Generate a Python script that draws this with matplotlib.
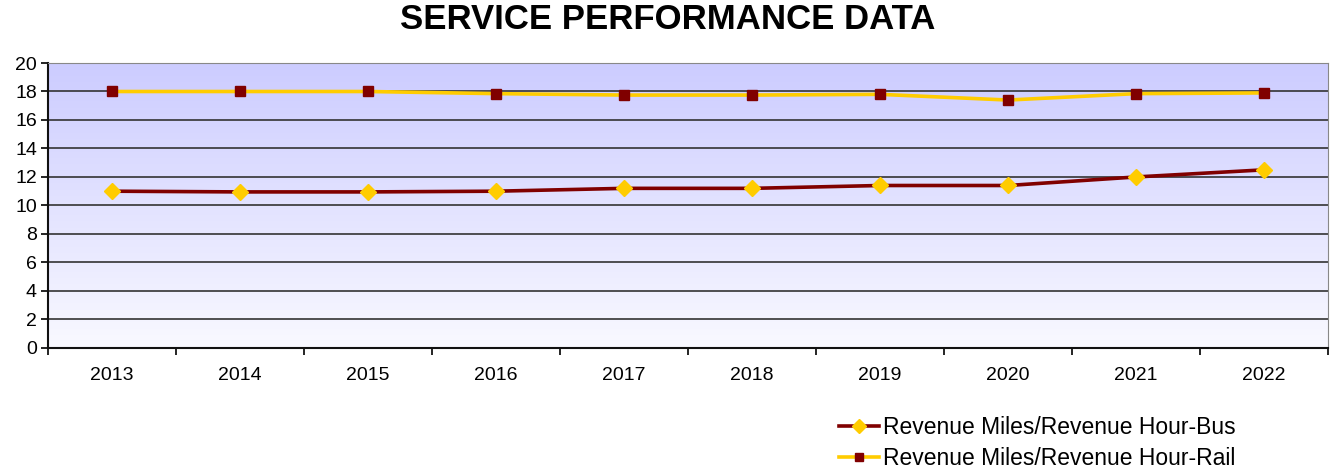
import numpy as np
import matplotlib.pyplot as plt
from matplotlib.colors import LinearSegmentedColormap

plt.rcParams['font.family'] = ['Liberation Sans', 'DejaVu Sans']

# Data
years = ['2013', '2014', '2015', '2016', '2017', '2018', '2019', '2020', '2021', '2022']
bus = [11.0, 10.95, 10.95, 11.0, 11.2, 11.2, 11.4, 11.4, 12.0, 12.5]
rail = [18.0, 18.0, 18.0, 17.85, 17.75, 17.75, 17.8, 17.4, 17.85, 17.9]

fig = plt.figure(figsize=(13.35, 4.72), dpi=100)
ax = fig.add_axes([0.036, 0.263, 0.9588, 0.6035])

x = np.arange(len(years))

# gradient background
cmap = LinearSegmentedColormap.from_list('bg', ['#f9f9ff', '#ccccff'])
grad = np.linspace(0, 1, 256).reshape(-1, 1)
ax.imshow(grad, aspect='auto', cmap=cmap, origin='lower',
          extent=[-0.5, len(years) - 0.5, 0, 20], zorder=0)

for v in range(2, 20, 2):
    ax.axhline(v, color='#333333', lw=1.2, zorder=1)

ax.plot(x, bus, color='#800000', lw=2.6, marker='D', ms=8, mfc='#ffcc00', mec='#ffcc00',
        label='Revenue Miles/Revenue Hour-Bus', zorder=3)
ax.plot(x, rail, color='#ffcc00', lw=2.6, marker='s', ms=6.5, mfc='#800000', mec='#800000',
        label='Revenue Miles/Revenue Hour-Rail', zorder=3)

ax.set_xlim(-0.5, len(years) - 0.5)
ax.set_ylim(0, 20)
ax.set_yticks(range(0, 21, 2))
ax.set_xticks(x)
ax.set_xticklabels(years)
ax.set_xticks(np.arange(-0.5, len(years), 1), minor=True)
ax.tick_params(axis='x', which='major', length=0, labelsize=14, pad=14)
ax.tick_params(axis='x', which='minor', length=5, width=1.2)
ax.tick_params(axis='y', labelsize=14, length=5, width=1.2, pad=3)

for s in ['top', 'right']:
    ax.spines[s].set_color('#888888')
for s in ['left', 'bottom']:
    ax.spines[s].set_color('#111111')
    ax.spines[s].set_linewidth(1.5)

fig.suptitle('SERVICE PERFORMANCE DATA', fontsize=25, fontweight='bold', y=0.993)

fig.legend(loc='lower left', bbox_to_anchor=(0.613, -0.04), frameon=False,
           fontsize=16.5, handlelength=1.75, handletextpad=0.15, labelspacing=0.35,
           markerscale=0.85)

fig.savefig('out.png', dpi=100)
